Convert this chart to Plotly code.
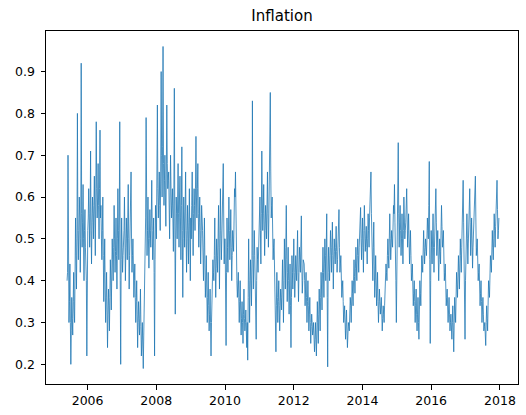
import pandas as pd
import plotly.graph_objects as go

title_text = "Inflation"
start_date = "2005-05-28"
step = "5D"

# band extremes (every 10 days)
inflation_band = [
    0.40, 0.70, 0.30, 0.44, 0.20, 0.36, 0.27, 0.42, 0.30, 0.55, 0.38, 0.80,
    0.45, 0.60, 0.42, 0.92, 0.48, 0.63, 0.40, 0.57, 0.45, 0.22, 0.52, 0.62,
    0.48, 0.71, 0.44, 0.60, 0.50, 0.65, 0.46, 0.78, 0.55, 0.68, 0.50, 0.76,
    0.58, 0.45, 0.60, 0.35, 0.50, 0.30, 0.42, 0.24, 0.38, 0.28, 0.45, 0.33,
    0.50, 0.40, 0.58, 0.42, 0.55, 0.38, 0.62, 0.45, 0.78, 0.20, 0.55, 0.42,
    0.48, 0.60, 0.40, 0.55, 0.45, 0.63, 0.38, 0.52, 0.66, 0.42, 0.50, 0.36,
    0.44, 0.30, 0.40, 0.24, 0.35, 0.27, 0.38, 0.22, 0.30, 0.19, 0.33, 0.40,
    0.79, 0.46, 0.60, 0.43, 0.57, 0.48, 0.64, 0.45, 0.55, 0.22, 0.58, 0.50,
    0.82, 0.55, 0.66, 0.52, 0.90, 0.60, 0.96, 0.58, 0.70, 0.53, 0.82, 0.62,
    0.66, 0.50, 0.70, 0.55, 0.62, 0.47, 0.86, 0.32, 0.60, 0.50, 0.68, 0.48,
    0.65, 0.45, 0.72, 0.36, 0.60, 0.48, 0.66, 0.42, 0.58, 0.44, 0.62, 0.40,
    0.50, 0.66, 0.46, 0.62, 0.52, 0.745, 0.55, 0.68, 0.48, 0.60, 0.44, 0.58,
    0.52, 0.40, 0.55, 0.36, 0.46, 0.30, 0.42, 0.28, 0.38, 0.22, 0.34, 0.45,
    0.40, 0.55, 0.36, 0.50, 0.42, 0.58, 0.38, 0.62, 0.45, 0.54, 0.68, 0.44,
    0.50, 0.245, 0.55, 0.42, 0.60, 0.45, 0.57, 0.40, 0.52, 0.47, 0.62, 0.66,
    0.45, 0.36, 0.42, 0.30, 0.40, 0.27, 0.35, 0.25, 0.38, 0.28, 0.33, 0.24,
    0.21, 0.50, 0.30, 0.45, 0.34, 0.83, 0.38, 0.52, 0.40, 0.26, 0.48, 0.42,
    0.50, 0.60, 0.44, 0.71, 0.52, 0.63, 0.46, 0.58, 0.50, 0.66, 0.48, 0.62,
    0.85, 0.55, 0.60, 0.45, 0.50, 0.36, 0.23, 0.42, 0.30, 0.40, 0.28, 0.38,
    0.33, 0.45, 0.30, 0.50, 0.38, 0.58, 0.35, 0.48, 0.32, 0.44, 0.24, 0.46,
    0.38, 0.50, 0.36, 0.46, 0.40, 0.52, 0.35, 0.48, 0.42, 0.555, 0.37, 0.45,
    0.44, 0.34, 0.42, 0.30, 0.40, 0.28, 0.36, 0.25, 0.32, 0.27, 0.30, 0.23,
    0.30, 0.22, 0.35, 0.25, 0.38, 0.28, 0.42, 0.33, 0.48, 0.36, 0.50, 0.40,
    0.56, 0.194, 0.48, 0.40, 0.52, 0.42, 0.54, 0.38, 0.50, 0.44, 0.53, 0.42,
    0.48, 0.57, 0.42, 0.46, 0.36, 0.40, 0.30, 0.34, 0.26, 0.33, 0.24, 0.30,
    0.28, 0.36, 0.30, 0.40, 0.34, 0.45, 0.37, 0.48, 0.40, 0.50, 0.42, 0.52,
    0.575, 0.45, 0.55, 0.42, 0.58, 0.47, 0.53, 0.44, 0.56, 0.48, 0.60, 0.66,
    0.50, 0.40, 0.54, 0.36, 0.46, 0.34, 0.42, 0.30, 0.38, 0.32, 0.36, 0.28,
    0.34, 0.30, 0.38, 0.44, 0.40, 0.50, 0.43, 0.56, 0.45, 0.52, 0.48, 0.58,
    0.63, 0.50, 0.30, 0.55, 0.73, 0.48, 0.58, 0.46, 0.56, 0.44, 0.60, 0.50,
    0.54, 0.62, 0.48, 0.56, 0.44, 0.52, 0.40, 0.44, 0.34, 0.40, 0.30, 0.38,
    0.28, 0.36, 0.26, 0.40, 0.34, 0.46, 0.42, 0.52, 0.44, 0.50, 0.46, 0.55,
    0.50, 0.685, 0.25, 0.52, 0.44, 0.56, 0.42, 0.54, 0.62, 0.46, 0.52, 0.40,
    0.50, 0.44, 0.58, 0.48, 0.52, 0.40, 0.44, 0.34, 0.38, 0.30, 0.36, 0.28,
    0.32, 0.26, 0.34, 0.23, 0.36, 0.30, 0.42, 0.36, 0.46, 0.38, 0.50, 0.42,
    0.52, 0.64, 0.45, 0.26, 0.50, 0.56, 0.44, 0.54, 0.62, 0.46, 0.55, 0.43,
    0.52, 0.58, 0.65, 0.46, 0.50, 0.40, 0.44, 0.34, 0.40, 0.30, 0.36, 0.28,
    0.30, 0.245, 0.34, 0.28, 0.40, 0.36, 0.46, 0.42, 0.52, 0.45, 0.56, 0.48,
    0.58, 0.64, 0.50, 0.55,
]

# dark-core values (in between, offset by 5 days)
inflation_core = [
    0.42, 0.38, 0.35, 0.30, 0.28, 0.31, 0.35, 0.33, 0.42, 0.46, 0.50, 0.52,
    0.52, 0.55, 0.50, 0.56, 0.54, 0.50, 0.52, 0.48, 0.40, 0.46, 0.55, 0.56,
    0.55, 0.52, 0.54, 0.56, 0.58, 0.55, 0.60, 0.62, 0.60, 0.58, 0.62, 0.55,
    0.50, 0.52, 0.46, 0.42, 0.38, 0.36, 0.33, 0.32, 0.34, 0.36, 0.40, 0.44,
    0.45, 0.48, 0.50, 0.47, 0.46, 0.50, 0.52, 0.55, 0.40, 0.45, 0.48, 0.46,
    0.52, 0.50, 0.48, 0.50, 0.55, 0.50, 0.46, 0.55, 0.50, 0.46, 0.42, 0.40,
    0.36, 0.35, 0.32, 0.30, 0.31, 0.32, 0.29, 0.26, 0.25, 0.27, 0.36, 0.55,
    0.55, 0.52, 0.50, 0.50, 0.52, 0.55, 0.52, 0.50, 0.42, 0.45, 0.54, 0.60,
    0.62, 0.60, 0.58, 0.66, 0.70, 0.72, 0.68, 0.64, 0.60, 0.66, 0.68, 0.64,
    0.58, 0.60, 0.62, 0.58, 0.55, 0.60, 0.55, 0.50, 0.56, 0.58, 0.56, 0.60,
    0.55, 0.58, 0.52, 0.50, 0.55, 0.56, 0.52, 0.50, 0.52, 0.54, 0.50, 0.55,
    0.58, 0.55, 0.56, 0.58, 0.62, 0.60, 0.62, 0.56, 0.54, 0.52, 0.50, 0.55,
    0.46, 0.48, 0.44, 0.40, 0.38, 0.36, 0.34, 0.32, 0.30, 0.30, 0.40, 0.42,
    0.46, 0.44, 0.43, 0.46, 0.50, 0.48, 0.50, 0.52, 0.50, 0.58, 0.55, 0.50,
    0.40, 0.42, 0.48, 0.52, 0.52, 0.50, 0.48, 0.46, 0.50, 0.55, 0.60, 0.52,
    0.40, 0.40, 0.36, 0.35, 0.33, 0.31, 0.30, 0.32, 0.31, 0.30, 0.28, 0.30,
    0.36, 0.40, 0.38, 0.40, 0.45, 0.46, 0.45, 0.46, 0.38, 0.40, 0.45, 0.48,
    0.55, 0.52, 0.56, 0.60, 0.56, 0.54, 0.52, 0.55, 0.58, 0.56, 0.55, 0.68,
    0.66, 0.58, 0.52, 0.48, 0.44, 0.32, 0.34, 0.36, 0.35, 0.34, 0.33, 0.36,
    0.40, 0.38, 0.40, 0.44, 0.48, 0.45, 0.42, 0.40, 0.38, 0.34, 0.36, 0.42,
    0.44, 0.42, 0.40, 0.43, 0.46, 0.42, 0.42, 0.45, 0.48, 0.44, 0.40, 0.44,
    0.40, 0.38, 0.36, 0.35, 0.34, 0.32, 0.30, 0.29, 0.30, 0.28, 0.26, 0.26,
    0.26, 0.28, 0.30, 0.32, 0.33, 0.36, 0.38, 0.42, 0.42, 0.44, 0.46, 0.48,
    0.36, 0.42, 0.44, 0.46, 0.48, 0.48, 0.46, 0.45, 0.47, 0.48, 0.47, 0.45,
    0.52, 0.48, 0.44, 0.40, 0.38, 0.35, 0.32, 0.30, 0.30, 0.28, 0.27, 0.29,
    0.32, 0.34, 0.35, 0.37, 0.40, 0.41, 0.43, 0.44, 0.46, 0.46, 0.48, 0.52,
    0.50, 0.50, 0.48, 0.52, 0.52, 0.50, 0.48, 0.50, 0.52, 0.55, 0.62, 0.56,
    0.45, 0.48, 0.44, 0.40, 0.40, 0.38, 0.35, 0.34, 0.35, 0.34, 0.32, 0.31,
    0.32, 0.34, 0.41, 0.42, 0.46, 0.46, 0.50, 0.50, 0.48, 0.50, 0.54, 0.56,
    0.54, 0.40, 0.45, 0.62, 0.56, 0.54, 0.52, 0.50, 0.50, 0.52, 0.55, 0.52,
    0.58, 0.55, 0.52, 0.50, 0.48, 0.46, 0.42, 0.38, 0.37, 0.35, 0.34, 0.32,
    0.32, 0.30, 0.33, 0.37, 0.40, 0.44, 0.46, 0.48, 0.47, 0.48, 0.50, 0.52,
    0.58, 0.45, 0.40, 0.48, 0.50, 0.48, 0.48, 0.58, 0.54, 0.49, 0.46, 0.45,
    0.47, 0.52, 0.53, 0.50, 0.46, 0.42, 0.39, 0.36, 0.34, 0.33, 0.32, 0.30,
    0.29, 0.30, 0.28, 0.30, 0.33, 0.36, 0.39, 0.41, 0.42, 0.44, 0.46, 0.48,
    0.58, 0.54, 0.35, 0.40, 0.53, 0.50, 0.49, 0.58, 0.54, 0.50, 0.49, 0.48,
    0.55, 0.62, 0.55, 0.48, 0.45, 0.42, 0.39, 0.37, 0.35, 0.33, 0.32, 0.29,
    0.27, 0.30, 0.31, 0.34, 0.38, 0.41, 0.44, 0.47, 0.48, 0.50, 0.52, 0.53,
    0.60, 0.57, 0.52,
]

# merge the two read series in time order
inflation = []
for i, v in enumerate(inflation_band):
    inflation.append(v)
    if i < len(inflation_core):
        inflation.append(inflation_core[i])

dates = pd.date_range(start=start_date, periods=len(inflation), freq=step)

y_ticks = [0.2, 0.3, 0.4, 0.5, 0.6, 0.7, 0.8, 0.9]
y_tick_text = ["0.2", "0.3", "0.4", "0.5", "0.6", "0.7", "0.8", "0.9"]
x_ticks = ["2006-01-01", "2008-01-01", "2010-01-01", "2012-01-01",
           "2014-01-01", "2016-01-01", "2018-01-01"]
x_tick_text = ["2006", "2008", "2010", "2012", "2014", "2016", "2018"]

fig = go.Figure()
fig.add_trace(go.Scatter(
    x=dates, y=inflation, mode="lines",
    line=dict(color="#1f77b4", width=0.8),
    showlegend=False,
))

font_family = "DejaVu Sans"
axis_common = dict(
    showline=True, linecolor="black", linewidth=1, mirror=True,
    ticks="outside", ticklen=4.5, tickwidth=1, tickcolor="black",
    showgrid=False, zeroline=False,
    tickfont=dict(family=font_family, size=12.5, color="black"),
)

fig.update_layout(
    width=526, height=415,
    margin=dict(l=46, r=7, t=31, b=29),
    paper_bgcolor="white", plot_bgcolor="white",
    title=dict(text=title_text, x=0.5, xref="paper", y=1 - 16 / 415,
               yref="container", xanchor="center", yanchor="middle",
               font=dict(family=font_family, size=15, color="black")),
    xaxis=dict(type="date", range=["2004-10-16", "2018-07-12"],
               tickvals=x_ticks, ticktext=x_tick_text, **axis_common),
    yaxis=dict(range=[0.153, 0.997], tickvals=y_ticks, ticktext=y_tick_text,
               ticklabelstandoff=3, **axis_common),
)

fig.write_html("out.html")
